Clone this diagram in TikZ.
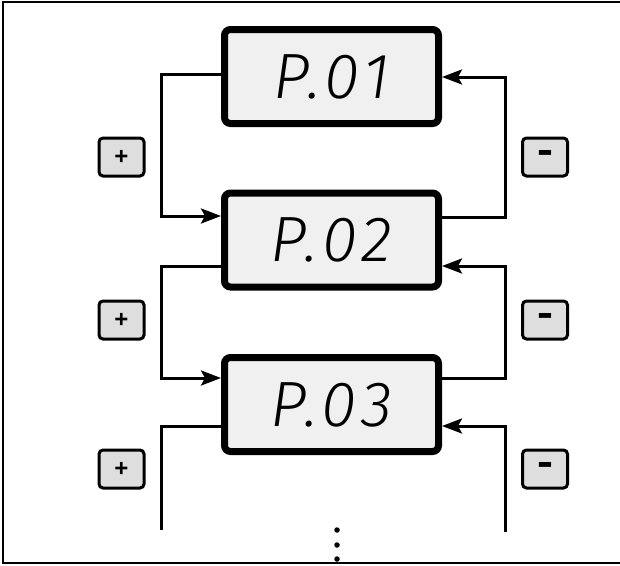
\documentclass[tikz,border=0pt]{standalone}
\usepackage{fontspec}
\usepackage{graphicx}
\newfontfamily\segfont{Fira Sans Light Italic}[LetterSpace=8]
\newfontfamily\keyfont{Liberation Sans Bold}
\usetikzlibrary{arrows.meta}
\begin{document}
\begin{tikzpicture}[x=1pt,y=-1pt,
  display/.style={draw=black, line width=7pt, fill=black!6, rounded corners=6pt,
    minimum width=214pt, minimum height=94pt, inner sep=0pt,
    font=\segfont\fontsize{64}{64}\selectfont},
  key/.style={draw=black, line width=3pt, fill=black!13, rounded corners=4pt,
    minimum width=45pt, minimum height=38pt, inner sep=0pt,
    font=\keyfont\fontsize{24}{24}\selectfont},
  conn/.style={line width=3pt},
  arr/.style={conn, -{Stealth[length=20pt,width=15pt,inset=4pt]}},
  dot/.style={circle, fill=black, inner sep=0pt, minimum size=5.5pt}]
\useasboundingbox (0,0) rectangle (620,565);
% outer frame (right side lies off the page)
\draw[line width=2pt] (630,2) -- (2.5,2) -- (2.5,562.5) -- (630,562.5);

% parameter displays
\node[display] (b1) at (331.5,76.5) {P.01};
\node[display] (b2) at (331.5,240) {P.02};
\node[display] (b3) at (331.5,404.5) {P.03};

% buttons
\node[key] (p1) at (121.5,157) {+};
\node[key] (p2) at (121.5,320) {+};
\node[key] (p3) at (121.5,469) {+};
\node[key] (m1) at (545,157) {\scalebox{2}[1.7]{-}};
\node[key] (m2) at (545,320) {\scalebox{2}[1.7]{-}};
\node[key] (m3) at (545,469) {\scalebox{2}[1.7]{-}};

% rails
\coordinate (L1) at (161,74);
\coordinate (L2) at (161,216);
\coordinate (L3) at (161,266);
\coordinate (L4) at (161,378);
\coordinate (L5) at (161,426);
\coordinate (L6) at (161,530);
\coordinate (R1) at (505,77);
\coordinate (R2) at (505,217);
\coordinate (R3) at (505,266);
\coordinate (R4) at (505,378);
\coordinate (R5) at (505,426);
\coordinate (R6) at (505,532);

% "+" path: downward
\draw[arr] (b1.west|-L1) -- (L1) -- (L2) -- (b2.west|-L2);
\draw[arr] (b2.west|-L3) -- (L3) -- (L4) -- (b3.west|-L4);
\draw[conn] (b3.west|-L5) -- (L5) -- (L6);
% "-" path: upward
\draw[arr] (b2.east|-R2) -- (R2) -- (R1) -- (b1.east|-R1);
\draw[arr] (b3.east|-R4) -- (R4) -- (R3) -- (b2.east|-R3);
\draw[arr] (R6) -- (R5) -- (b3.east|-R5);

% continuation dots
\node[dot] (d1) at (337,530) {};
\node[dot] (d2) at (337,545) {};
\node[dot] (d3) at (337,559) {};
\end{tikzpicture}
\end{document}
